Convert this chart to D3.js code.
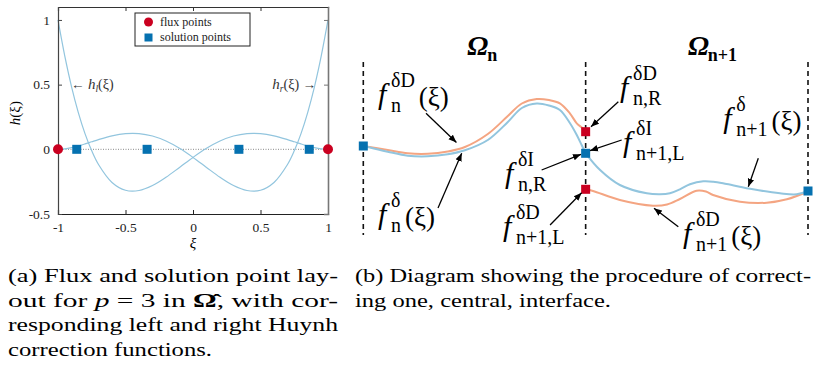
<!DOCTYPE html>
<html>
<head>
<meta charset="utf-8">
<script src="https://cdn.jsdelivr.net/npm/d3@7"></script>
<style>
  body { margin: 0; background: #fff; }
  svg { display: block; }
</style>
</head>
<body>
<svg id="fig" width="814" height="372"></svg>
<script>
// ---------- (a) Huynh correction functions, p = 3 ----------
const xiTicks = [-1, -0.5, 0, 0.5, 1];
const hTicks = [-0.5, 0, 0.5, 1];
const xiSamples = [-1, -0.95, -0.9, -0.85, -0.8, -0.75, -0.7, -0.6, -0.5, -0.4, -0.3, -0.2, -0.1,
                   0, 0.1, 0.2, 0.3, 0.4, 0.5, 0.6, 0.7, 0.75, 0.8, 0.85, 0.9, 0.95, 1];
const hLeft = [1, 0.7219, 0.4851, 0.2861, 0.1215, -0.0120, -0.1174, -0.2560, -0.3164, -0.3185, -0.2799, -0.2160, -0.1399,
               -0.0625, 0.0076, 0.0640, 0.1026, 0.1215, 0.1211, 0.1040, 0.0751, 0.0584, 0.0415, 0.0258, 0.0126, 0.0034, 0];
const hRight = [0, 0.0034, 0.0126, 0.0258, 0.0415, 0.0584, 0.0751, 0.1040, 0.1211, 0.1215, 0.1026, 0.0640, 0.0076,
                -0.0625, -0.1399, -0.2160, -0.2799, -0.3185, -0.3164, -0.2560, -0.1174, -0.0120, 0.1215, 0.2861, 0.4851, 0.7219, 1];
const fluxPoints = [-1, 1];
const solutionPoints = [-0.8611, -0.3400, 0.3400, 0.8611];
const legendLabels = ["flux points", "solution points"];

// ---------- (b) interface correction sketch ----------
const elementEdges = [0, 1, 2];
const fnX  = [0, 0.02, 0.11, 0.2, 0.29, 0.38, 0.457, 0.56, 0.65, 0.713, 0.78, 0.835, 0.884, 0.929, 0.96, 0.982, 1.0];
const fnY  = [0.08, 0.06, -0.034, -0.114, -0.126, -0.086, -0.006, 0.2, 0.56, 0.84, 0.93, 0.89, 0.8, 0.54, 0.3, 0.1, -0.066];
const fnDX = [0, 0.11, 0.2, 0.29, 0.38, 0.457, 0.56, 0.65, 0.713, 0.78, 0.835, 0.884, 0.929, 0.96, 0.987, 1.0];
const fnDY = [0.08, 0.0, -0.066, -0.076, -0.03, 0.06, 0.32, 0.68, 0.93, 1.02, 1.0, 0.934, 0.734, 0.534, 0.434, 0.366];
const fn1X  = [1.0, 1.065, 1.154, 1.275, 1.334, 1.379, 1.424, 1.469, 1.529, 1.574, 1.634, 1.753, 1.874, 1.949, 2.0];
const fn1Y  = [-0.066, -0.4, -0.7, -0.866, -0.886, -0.866, -0.786, -0.686, -0.626, -0.634, -0.68, -0.786, -0.866, -0.886, -0.82];
const fn1DX = [1.0, 1.033, 1.154, 1.303, 1.366, 1.424, 1.499, 1.541, 1.573, 1.694, 1.815, 1.905, 2.0];
const fn1DY = [-0.786, -0.82, -1.0, -1.114, -1.09, -0.98, -0.814, -0.83, -0.9, -1.034, -1.054, -0.986, -0.83];
// end values: discontinuous (D) in red, common interface (I) values in blue
const discPoints = [[1.0, 0.366], [1.0, -0.786]];
const interPoints = [[0, 0.08], [1.0, -0.066], [2.0, -0.82]];
const elementNames = [{x: 0.468, sub: "n"}, {x: 1.46, sub: "n+1"}];

// ---------- captions ----------
const captionA = ["(a) Flux and solution point lay-", "out for |p| = 3 in |Ω̂|, with cor-",
                  "responding left and right Huynh", "correction functions."];
const captionB = ["(b) Diagram showing the procedure of correct-", "ing one, central, interface."];

const C = { red: "#ca0020", salmon: "#f4a582", sky: "#92c5de", blue: "#0571b0" };
const SERIF = "'Liberation Serif', 'Times New Roman', serif";

const svg = d3.select("#fig");

// arrowhead marker
const defs = svg.append("defs");
defs.append("marker")
  .attr("id", "head").attr("viewBox", "0 0 10 10")
  .attr("refX", 10).attr("refY", 5)
  .attr("markerWidth", 8).attr("markerHeight", 8)
  .attr("markerUnits", "userSpaceOnUse")
  .attr("orient", "auto")
  .append("path").attr("d", "M0,1 L10,5 L0,9 Z").attr("fill", "#000");

// ============ panel (a) ============
const ga = svg.append("g");
const xa = d3.scaleLinear().domain([-1, 1]).range([58, 328]);
const ya = d3.scaleLinear().domain([-0.5, 1.1]).range([214, 7]);
const plain = d => String(d);

const tickFont = (sel) => sel.attr("font-family", SERIF).attr("font-size", 13.5).attr("fill", "#222");

// zero line
ga.append("line")
  .attr("x1", xa(-1)).attr("x2", xa(1)).attr("y1", ya(0)).attr("y2", ya(0))
  .attr("stroke", "#888").attr("stroke-width", 1).attr("stroke-dasharray", "1,1.5");

// curves
const lineA = d3.line().x((d, i) => xa(xiSamples[i])).y(d => ya(d)).curve(d3.curveCatmullRom.alpha(0.5));
[hLeft, hRight].forEach(h => {
  ga.append("path").attr("d", lineA(h)).attr("fill", "none")
    .attr("stroke", C.sky).attr("stroke-width", 1.2);
});

// axes (ticks pointing inward on all four sides)
const axB = d3.axisBottom(xa).tickValues(xiTicks).tickSize(-4).tickPadding(8).tickFormat(plain);
const axT = d3.axisTop(xa).tickValues(xiTicks).tickSize(-4).tickFormat("");
const axL = d3.axisLeft(ya).tickValues(hTicks).tickSize(-4).tickPadding(8).tickFormat(plain);
const axR = d3.axisRight(ya).tickValues(hTicks).tickSize(-4).tickFormat("");
function styleAxis(g, color, w) {
  g.select(".domain").attr("stroke", color).attr("stroke-width", w);
  g.selectAll(".tick line").attr("stroke", color);
  g.selectAll("text").call(tickFont);
}
ga.append("g").attr("transform", `translate(0,${ya(-0.5)})`).call(axB).call(g => styleAxis(g, "#222", 1.2));
ga.append("g").attr("transform", `translate(0,${ya(1.1)})`).call(axT).call(g => styleAxis(g, "#333", 1.2));
ga.append("g").attr("transform", `translate(${xa(-1)},0)`).call(axL).call(g => styleAxis(g, "#444", 1.2));
ga.append("g").attr("transform", `translate(${xa(1)},0)`).call(axR).call(g => styleAxis(g, "#777", 1.6));
ga.selectAll(".domain").attr("d", function () { return d3.select(this).attr("d").replace(/V-?4/g, "V0").replace(/H-?4/g, "H0"); });

// axis titles
ga.append("text").attr("x", xa(0)).attr("y", 248).attr("text-anchor", "middle")
  .attr("font-family", SERIF).attr("font-style", "italic").attr("font-size", 15).text("ξ");
ga.append("text").attr("transform", `translate(20,${ya(0.28)}) rotate(-90)`).attr("text-anchor", "middle")
  .attr("font-family", SERIF).attr("font-size", 15)
  .call(t => { t.append("tspan").attr("font-style", "italic").text("h"); t.append("tspan").text("(ξ)"); });

// function labels
const hl = ga.append("text").attr("x", 71).attr("y", ya(0.5) + 4.5).attr("font-family", SERIF).attr("font-size", 13.5).attr("fill", "#333");
hl.append("tspan").text("← ");
hl.append("tspan").attr("font-style", "italic").attr("font-size", 15).text("h");
hl.append("tspan").attr("font-style", "italic").attr("font-size", 9.5).attr("dy", 3).text("l");
hl.append("tspan").attr("dy", -3).attr("font-size", 14).text("(ξ)");
const hr = ga.append("text").attr("x", 316).attr("y", ya(0.5) + 4.5).attr("text-anchor", "end").attr("font-family", SERIF).attr("font-size", 13.5).attr("fill", "#333");
hr.append("tspan").attr("font-style", "italic").attr("font-size", 15).text("h");
hr.append("tspan").attr("font-style", "italic").attr("font-size", 9.5).attr("dy", 3).text("r");
hr.append("tspan").attr("dy", -3).attr("font-size", 14).text("(ξ)");
hr.append("tspan").text(" →");

// points
ga.selectAll("rect.sp").data(solutionPoints).join("rect").attr("class", "sp")
  .attr("x", d => xa(d) - 4.5).attr("y", ya(0) - 4.5).attr("width", 9).attr("height", 9).attr("fill", C.blue);
ga.selectAll("circle.fp").data(fluxPoints).join("circle").attr("class", "fp")
  .attr("cx", d => xa(d)).attr("cy", ya(0)).attr("r", 5).attr("fill", C.red);

// legend
const lg = ga.append("g").attr("transform", "translate(135,13)");
lg.append("rect").attr("width", 115).attr("height", 33).attr("fill", "#fff").attr("stroke", "#222").attr("stroke-width", 1);
lg.append("circle").attr("cx", 13.5).attr("cy", 9).attr("r", 4.5).attr("fill", C.red);
lg.append("rect").attr("x", 9.5).attr("y", 20.5).attr("width", 8).attr("height", 8).attr("fill", C.blue);
lg.selectAll("text").data(legendLabels).join("text")
  .attr("x", 25).attr("y", (d, i) => 12.5 + i * 15.5)
  .attr("font-family", SERIF).attr("font-size", 12).attr("fill", "#222").text(d => d);

// ============ panel (b) ============
const gb = svg.append("g");
const xb = d3.scaleLinear().domain([0, 2]).range([363.3, 808]);
const yb = d3.scaleLinear().domain([-1.7, 1.8]).range([235, 60]);

gb.selectAll("line.edge").data(elementEdges).join("line").attr("class", "edge")
  .attr("x1", d => xb(d)).attr("x2", d => xb(d)).attr("y1", yb(1.76)).attr("y2", yb(-1.7))
  .attr("stroke", "#111").attr("stroke-width", 1.6).attr("stroke-dasharray", "5,4");

const lineB = (xs) => d3.line().x((d, i) => xb(xs[i])).y(d => yb(d)).curve(d3.curveCatmullRom.alpha(0.5));
[[fnDX, fnDY, C.salmon], [fn1DX, fn1DY, C.salmon], [fnX, fnY, C.sky], [fn1X, fn1Y, C.sky]].forEach(([xs, ys, col]) => {
  gb.append("path").attr("d", lineB(xs)(ys)).attr("fill", "none").attr("stroke", col).attr("stroke-width", 2);
});

const sq = 9;
gb.selectAll("rect.disc").data(discPoints).join("rect").attr("class", "disc")
  .attr("x", d => xb(d[0]) - sq / 2).attr("y", d => yb(d[1]) - sq / 2).attr("width", sq).attr("height", sq).attr("fill", C.red);
gb.selectAll("rect.inter").data(interPoints).join("rect").attr("class", "inter")
  .attr("x", d => xb(d[0]) - sq / 2).attr("y", d => yb(d[1]) - sq / 2).attr("width", sq).attr("height", sq).attr("fill", C.blue);

// element titles
elementNames.forEach(e => {
  const t = gb.append("text").attr("x", xb(e.x)).attr("y", yb(1.9)).attr("font-family", SERIF).attr("font-weight", "bold");
  t.append("tspan").attr("font-style", "italic").attr("font-size", 28).text("Ω");
  t.append("tspan").attr("font-size", 18).attr("dy", 6).attr("dx", -1).text(e.sub);
});

// annotations: label anchor (left of f, baseline), arrow tail -> tip, in diagram units
const notes = [
  { at: [0.066, 0.92],  sup: "δD", sub: "n",     arg: true,  tail: [0.282, 0.734], tip: [0.419, 0.15] },
  { at: [0.066, -1.48], sup: "δ",  sub: "n",     arg: true,  tail: [0.336, -1.16], tip: [0.4426, -0.066] },
  { at: [1.1545, 1.06], sup: "δD", sub: "n,R",   arg: false, tail: [1.147, 0.966], tip: [1.024, 0.466] },
  { at: [1.168, -0.04], sup: "δI", sub: "n+1,L", arg: false, tail: [1.162, 0.2],   tip: [1.0196, -0.014] },
  { at: [0.637, -0.66], sup: "δI", sub: "n,R",   arg: false, tail: [0.802, -0.4],  tip: [0.979, -0.086] },
  { at: [0.628, -1.72], sup: "δD", sub: "n+1,L", arg: false, tail: [0.84, -1.5],   tip: [0.982, -0.854] },
  { at: [1.6185, 0.44], sup: "δ",  sub: "n+1",   arg: true,  tail: [1.7765, -0.166], tip: [1.7315, -0.734] },
  { at: [1.4376, -1.86], sup: "δD", sub: "n+1",  arg: true,  tail: [1.4167, -1.534], tip: [1.3074, -1.166] }
];

notes.forEach(n => {
  gb.append("line")
    .attr("x1", xb(n.tail[0])).attr("y1", yb(n.tail[1]))
    .attr("x2", xb(n.tip[0])).attr("y2", yb(n.tip[1]))
    .attr("stroke", "#000").attr("stroke-width", 1.3).attr("marker-end", "url(#head)");
  const x0 = xb(n.at[0]), y0 = yb(n.at[1]);
  const g = gb.append("g").attr("font-family", SERIF).attr("fill", "#000");
  g.append("text").attr("x", x0).attr("y", y0).attr("font-size", 30).attr("font-style", "italic").text("f");
  const sx = x0 + 13;
  const sp = g.append("text").attr("x", sx).attr("y", y0 - 17).attr("font-size", 20).text(n.sup);
  const sb = g.append("text").attr("x", sx).attr("y", y0 + 8).attr("font-size", 20).text(n.sub);
  if (n.arg) {
    const w = Math.max(sp.node().getComputedTextLength(), sb.node().getComputedTextLength());
    g.append("text").attr("x", sx + w + 4).attr("y", y0 + 2).attr("font-size", 27).text("(ξ)");
  }
});

// ============ captions ============
// "|...|" marks math runs: italic for p, bold for the reference element
function caption(lines, x, widths) {
  lines.forEach((s, i) => {
    const t = svg.append("text").attr("x", x).attr("y", 282 + i * 24.5)
      .attr("font-family", SERIF).attr("font-size", 18.5).attr("fill", "#000");
    s.split("|").forEach((part, k) => {
      const ts = t.append("tspan").text(part);
      if (k % 2 === 1) {
        if (part === "p") ts.attr("font-style", "italic");
        else ts.attr("font-weight", "bold");
      }
    });
    t.attr("textLength", widths[i]).attr("lengthAdjust", "spacingAndGlyphs");
  });
}
caption(captionA, 8, [330, 330, 330, 204]);
caption(captionB, 355, [456, 256]);
</script>
</body>
</html>
